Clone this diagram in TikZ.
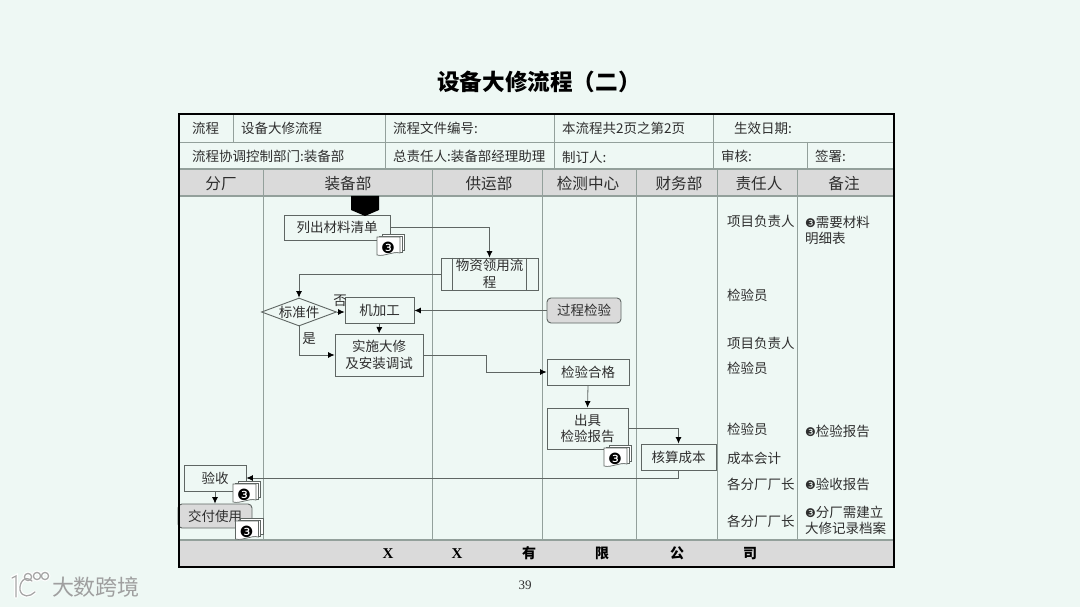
\documentclass[tikz,border=0pt]{standalone}
\usepackage{fontspec}
\setmainfont{Noto Sans CJK SC}
\newfontfamily\dejavu{DejaVu Sans}
\newfontfamily\serifx{Liberation Serif}
\usetikzlibrary{arrows.meta,shapes.geometric}

\definecolor{pagebg}{HTML}{EEF8F4}
\definecolor{headgrey}{HTML}{DADADA}
\definecolor{gridline}{HTML}{93A09B}
\definecolor{boxline}{HTML}{5F6663}
\definecolor{inktext}{HTML}{2E2E2E}

\tikzset{
  celltext/.style={anchor=west,inner sep=0pt,yshift=-0.6pt,text=inktext,font=\fontsize{13.5}{16}\selectfont},
  headtext/.style={inner sep=0pt,yshift=-0.6pt,text=inktext,font=\fontsize{15.6}{18}\selectfont},
  footext/.style={inner sep=0pt,text=black,font=\fontsize{14}{16}\selectfont\bfseries},
  flowbox/.style={draw=boxline,line width=0.9pt,fill=pagebg,inner sep=0pt,align=center,text=inktext,
    font=\fontsize{13.5}{16.5}\selectfont},
  greybox/.style={flowbox,fill=headgrey,rounded corners=4pt},
  flowdiam/.style={flowbox,diamond,aspect=2.6,minimum width=75pt,minimum height=28pt},
  gridrule/.style={draw=gridline,line width=0.8pt},
  link/.style={draw=boxline,line width=0.8pt,-{Latex[length=6.5pt,width=6pt,color=black]}}
}

% stack of documents, #1 = top left of the front sheet, #2 = name
\newcommand{\DocStack}[2]{
  \begin{scope}[shift={(#1)}]
    \draw[boxline,fill=white,line width=0.5pt] (5,-2.5) rectangle (27.5,13.5);
    \draw[boxline,fill=white,line width=0.5pt] (2.5,-1.2) rectangle (25,15);
    \draw[boxline,fill=white,line width=0.7pt] (0,0) -- (23,0) -- (23,16)
      .. controls (15,14) and (8,20) .. (0,18) -- cycle;
    \node[inner sep=0pt,font=\dejavu\fontsize{15.5}{16}\selectfont] (#2) at (11,10.5) {❸};
  \end{scope}
}
\newcommand{\NoteMark}{{\dejavu\fontsize{12}{16}\selectfont ❸}}

\begin{document}
\begin{tikzpicture}[x=1pt,y=-1pt]
    \useasboundingbox (0,0) rectangle (1080,607);
    \fill[pagebg] (0,0) rectangle (1080,607);

    % Title
    \node[inner sep=0pt,text=black,font=\fontsize{22.6}{26}\selectfont\bfseries] (title) at (539,81.5) {设备大修流程（二）};

    % Grey bands
    \fill[headgrey] (179,169) rectangle (894,196);
    \fill[headgrey] (179,540) rectangle (894,567);

    % Grid
    \draw[gridrule] (179,142) -- (894,142);
    \draw[gridrule,line width=1.2pt] (179,169) -- (894,169);
    \draw[gridrule,line width=1.2pt] (179,196) -- (894,196);
    \draw[gridrule,line width=1.6pt] (179,540) -- (894,540);
    \draw[gridrule] (233,114) -- (233,142);
    \draw[gridrule] (385,114) -- (385,169);
    \draw[gridrule] (554,114) -- (554,169);
    \draw[gridrule] (713,114) -- (713,169);
    \draw[gridrule] (807,142) -- (807,169);
    \draw[gridrule] (263,169) -- (263,540);
    \draw[gridrule] (432,169) -- (432,540);
    \draw[gridrule] (542,169) -- (542,540);
    \draw[gridrule] (636,169) -- (636,540);
    \draw[gridrule] (717,169) -- (717,540);
    \draw[gridrule] (797,169) -- (797,540);

    % Table head
    \node[celltext] (t1) at (192,128) {流程};
    \node[celltext] (t2) at (241,128) {设备大修流程};
    \node[celltext] (t3) at (393,128) {流程文件编号:};
    \node[celltext] (t4) at (562,128) {本流程共2页之第2页};
    \node[celltext] (t5) at (734,128) {生效日期:};
    \node[celltext] (t6) at (192,156) {流程协调控制部门:装备部};
    \node[celltext] (t7) at (393,156) {总责任人:装备部经理助理};
    \node[celltext] (t8) at (562,157) {制订人:};
    \node[celltext] (t9) at (721,156) {审核:};
    \node[celltext] (t10) at (815,156) {签署:};

    % Columns
    \node[headtext] (c1) at (221,183) {分厂};
    \node[headtext] (c2) at (348,183) {装备部};
    \node[headtext] (c3) at (489,183) {供运部};
    \node[headtext] (c4) at (588,183) {检测中心};
    \node[headtext] (c5) at (679,183) {财务部};
    \node[headtext] (c6) at (759,183) {责任人};
    \node[headtext] (c7) at (844,183) {备注};

    % Vertices
    \node[flowbox,minimum width=106pt,minimum height=25pt] (list) at (337,227.5) {列出材料清单};
    \node[flowbox,minimum width=97pt,minimum height=32pt] (supply) at (489.5,274) {物资领用流\\程};
    \node[flowdiam] (std) at (299,312) {标准件};
    \node[flowbox,minimum width=69pt,minimum height=26pt] (mach) at (379.5,310.5) {机加工};
    \node[greybox,minimum width=74pt,minimum height=25pt] (inspect) at (584,310.5) {过程检验};
    \node[flowbox,minimum width=88pt,minimum height=42pt] (repair) at (379,355) {实施大修\\及安装调试};
    \node[flowbox,minimum width=82pt,minimum height=26pt] (check) at (588,372) {检验合格};
    \node[flowbox,minimum width=81pt,minimum height=41pt] (report) at (587.5,428.5) {出具\\检验报告};
    \node[flowbox,minimum width=75pt,minimum height=26pt] (cost) at (678.5,457) {核算成本};
    \node[flowbox,minimum width=62pt,minimum height=26pt] (accept) at (215,478) {验收};
    \node[greybox,minimum width=74pt,minimum height=24pt] (deliver) at (215,516) {交付使用};

    % Start mark
    \fill[black] (351,196) -- (379,196) -- (379,210) -- (365,216) -- (351,210) -- cycle;

    % Sub process bars
    \draw[boxline,line width=0.8pt] (supply.north west) ++(12,0) -- ++(0,32);
    \draw[boxline,line width=0.8pt] (supply.north east) ++(-12,0) -- ++(0,32);

    % Edges
    \draw[link] (list.east) -| (supply.north);
    \draw[link] (supply.west) -| (std.north);
    \draw[link] (std.east) -- (std.east -| mach.west);
    \draw[link] (inspect.west) -- (mach.east);
    \draw[link] (mach.south) -- (repair.north);
    \draw[link] (std.south) |- (repair.west);
    \draw[link] (repair.east) -- ++(63,0) |- (check.west);
    \draw[link] (check.south) -- (report.north);
    \draw[link] (report.east) -| (cost.north);
    \draw[link] (cost.south) |- (accept.east);
    \draw[link] (accept.south) -- (deliver.north);

    % Edge labels
    \node[inner sep=0pt,text=inktext,font=\fontsize{13.5}{16}\selectfont] (no) at (340,301) {否};
    \node[inner sep=0pt,text=inktext,font=\fontsize{13.5}{16}\selectfont] (yes) at (309,339) {是};

    % Documents
    \DocStack{377,237}{d1}
    \DocStack{604,448}{d2}
    \DocStack{233,484}{d3}
    \DocStack{235.5,521}{d4}

    % Responsible
    \node[celltext] (r1) at (727,221) {项目负责人};
    \node[celltext] (r2) at (727,295) {检验员};
    \node[celltext] (r3) at (727,343) {项目负责人};
    \node[celltext] (r4) at (727,368) {检验员};
    \node[celltext] (r5) at (727,429) {检验员};
    \node[celltext] (r6) at (727,458) {成本会计};
    \node[celltext] (r7) at (727,484) {各分厂厂长};
    \node[celltext] (r8) at (727,521) {各分厂厂长};

    % Notes
    \node[celltext,align=left] (n1) at (805,230) {\NoteMark 需要材料\\明细表};
    \node[celltext] (n2) at (805,431) {\NoteMark 检验报告};
    \node[celltext] (n3) at (805,484) {\NoteMark 验收报告};
    \node[celltext,align=left] (n4) at (805,520) {\NoteMark 分厂需建立\\大修记录档案};

    % Footer
    \node[footext,font=\serifx\fontsize{15}{16}\selectfont\bfseries] (f1) at (388,553.5) {X};
    \node[footext,font=\serifx\fontsize{15}{16}\selectfont\bfseries] (f2) at (457,553.5) {X};
    \node[footext] (f3) at (529,553.5) {有};
    \node[footext] (f4) at (602,553.5) {限};
    \node[footext] (f5) at (677,553.5) {公};
    \node[footext] (f6) at (750,553.5) {司};

    % Frame
    \draw[black,line width=2.4pt] (179,114) rectangle (894,567);

    % Page number
    \node[inner sep=0pt,text=inktext,font=\serifx\fontsize{13}{16}\selectfont] (page) at (525,585) {39};

    % Watermark
    \begin{scope}[draw=white,line width=3.6pt,line cap=round]
      \draw (12,578) -- (16,576) -- (16,597);
      \draw (32,581) .. controls (24,574) and (19,584) .. (20,590) .. controls (22,598) and (30,597) .. (35,592);
      \draw (28,577) circle (3.6);
      \draw (37,576) circle (3.6);
      \draw (45,576) circle (3.6);
    \end{scope}
    \begin{scope}[draw=gray!70,line width=1.3pt,line cap=round]
      \draw (12,578) -- (16,576) -- (16,597);
      \draw (32,581) .. controls (24,574) and (19,584) .. (20,590) .. controls (22,598) and (30,597) .. (35,592);
      \draw (28,577) circle (3.6);
      \draw (37,576) circle (3.6);
      \draw (45,576) circle (3.6);
    \end{scope}
    \node[inner sep=0pt,text=gray!75,font=\fontsize{22}{24}\selectfont] (mark) at (96,587) {大数跨境};
\end{tikzpicture}
\end{document}
